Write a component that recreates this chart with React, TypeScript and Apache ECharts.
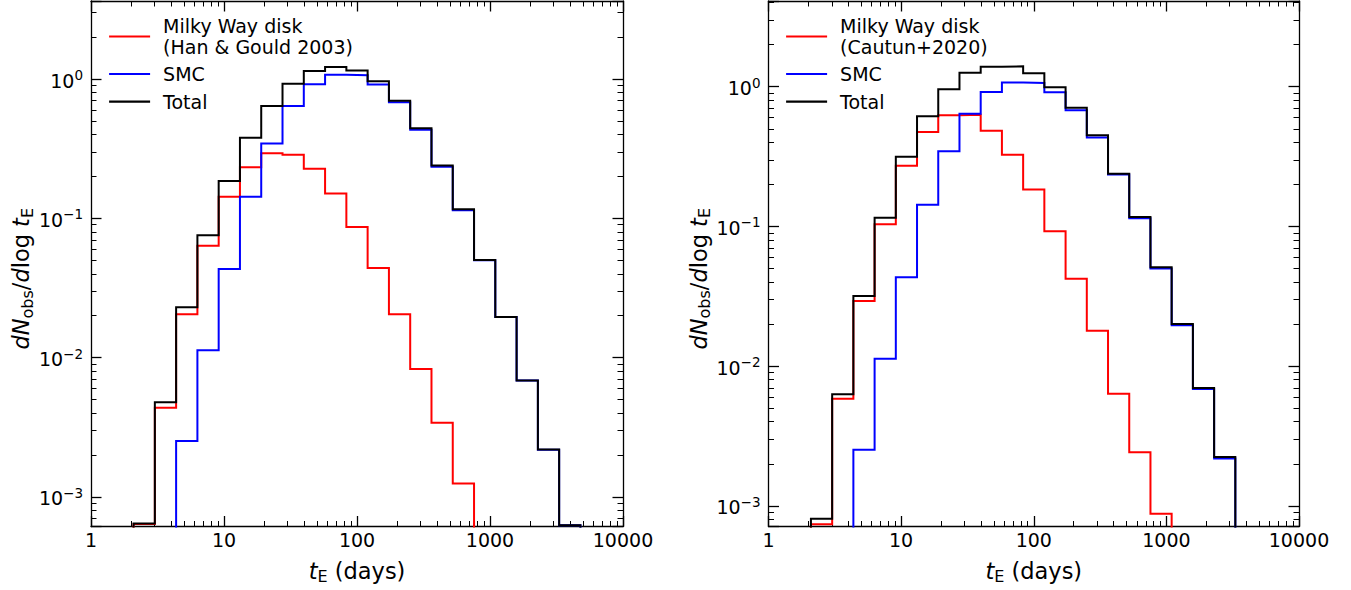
import React, { useEffect, useRef } from "react";
import * as echarts from "echarts";

// Histogram bin edges in t_E (days), log-spaced bins of 0.16 dex
const binEdges = [
  2.089, 3.02, 4.365, 6.31, 9.12, 13.18, 19.05, 27.54, 39.81, 57.54, 83.18,
  120.2, 173.8, 251.2, 363.1, 524.8, 758.6, 1096, 1585, 2291, 3311, 4786,
];

// dN_obs/dlog t_E per bin (null = below plotted range / empty)
const smc = [
  null, null, 2.52e-3, 0.01128, 0.0433, 0.143, 0.345, 0.64, 0.916, 1.074, 1.063,
  0.912, 0.68, 0.433, 0.235, 0.1145, 0.05, 0.0196, 6.85e-3, 2.18e-3, 6.28e-4,
];
const mwHanGould = [
  6.4e-4, 4.37e-3, 0.0205, 0.0636, 0.143, 0.233, 0.293, 0.286, 0.227, 0.151,
  0.0866, 0.044, 0.0205, 8.28e-3, 3.41e-3, 1.25e-3, null, null, null, null, null,
];
const totalHanGould = [
  6.45e-4, 4.78e-3, 0.023, 0.0755, 0.185, 0.379, 0.64, 0.925, 1.14, 1.22, 1.15,
  0.962, 0.699, 0.443, 0.239, 0.116, 0.0502, 0.0196, 6.87e-3, 2.19e-3, 6.28e-4,
];
const mwCautun = [
  7.37e-4, 5.85e-3, 0.0292, 0.1035, 0.272, 0.474, 0.624, 0.63, 0.484, 0.326,
  0.184, 0.0925, 0.0422, 0.0179, 6.34e-3, 2.42e-3, 8.78e-4, null, null, null, null,
];
const totalCautun = [
  8.09e-4, 6.28e-3, 0.0318, 0.1154, 0.3155, 0.614, 0.958, 1.26, 1.39, 1.4, 1.25,
  0.99, 0.708, 0.449, 0.238, 0.117, 0.051, 0.02, 6.97e-3, 2.24e-3, 6.28e-4,
];

const xRange = [1, 10000];
const yRangeLeft = [6.14e-4, 3.63];
const yRangeRight = [7.11e-4, 4.11];

const seriesNamesLeft = ["Milky Way disk\n(Han & Gould 2003)", "SMC", "Total"];
const seriesNamesRight = ["Milky Way disk\n(Cautun+2020)", "SMC", "Total"];

const FONT = "DejaVu Sans";
const FLOOR = 1e-7;

function stepPoints(vals: (number | null)[]) {
  const pts: number[][] = [];
  let started = false;
  for (let i = 0; i < vals.length; i++) {
    const v = vals[i];
    if (v == null) {
      if (started) {
        pts.push([binEdges[i], FLOOR]);
        started = false;
      }
      continue;
    }
    if (!started) {
      pts.push([binEdges[i], FLOOR]);
      started = true;
    }
    pts.push([binEdges[i], v]);
    pts.push([binEdges[i + 1], v]);
  }
  if (started) pts.push([binEdges[vals.length], FLOOR]);
  return pts;
}

function minorLogValues(lo: number, hi: number) {
  const out: number[] = [];
  for (let n = Math.floor(lo) - 1; n <= Math.ceil(hi); n++) {
    for (let k = 2; k <= 9; k++) {
      const v = n + Math.log10(k);
      if (v > lo && v < hi) out.push(v);
    }
  }
  return out;
}

const axisLineStyle = { color: "#000", width: 1.3 };
const majorTick = { show: true, inside: true, length: 10.5, lineStyle: { color: "#000", width: 1.3 } };
const minorTickBase = { show: true, inside: true, length: 5.5, lineStyle: { color: "#000", width: 1 } };

const richName = {
  i: { fontFamily: FONT, fontSize: 22.5, fontStyle: "italic", lineHeight: 28, verticalAlign: "middle", color: "#000" },
  n: { fontFamily: FONT, fontSize: 22.5, lineHeight: 28, verticalAlign: "middle", color: "#000" },
  s: { fontFamily: FONT, fontSize: 16, lineHeight: 15, verticalAlign: "bottom", color: "#000" },
};

function supLabel(v: number) {
  const e = Math.log10(v);
  const r = Math.round(e);
  if (Math.abs(e - r) > 1e-6) return "";
  return `{b|10}{p|${r < 0 ? "\u2212" : ""}${Math.abs(r)}}`;
}

function buildPanel(g: number, yRange: number[], names: string[], mw: (number | null)[], total: (number | null)[], withYName: boolean) {
  const xMinor = minorLogValues(0, 4);
  const yLo = Math.log10(yRange[0]);
  const yHi = Math.log10(yRange[1]);
  const yMinor = minorLogValues(yLo, yHi);
  const xAxes: any[] = [
    {
      type: "log", gridIndex: g, position: "bottom", min: xRange[0], max: xRange[1], logBase: 10,
      axisLine: { show: true, onZero: false, lineStyle: axisLineStyle },
      axisTick: majorTick,
      axisLabel: {
        show: true, interval: 0, margin: 4, showMinLabel: true, showMaxLabel: true,
        fontFamily: FONT, fontSize: 19, color: "#000",
        formatter: (v: number) => String(Math.round(v)),
      },
      splitLine: { show: false },
      name: "{i|t}{s|E}{n| (days)}", nameLocation: "middle", nameGap: 30,
      nameTextStyle: { rich: richName },
    },
    {
      type: "value", gridIndex: g, position: "bottom", min: 0, max: 4,
      axisLine: { show: false, onZero: false }, axisTick: { ...minorTickBase, customValues: xMinor },
      axisLabel: { show: false }, splitLine: { show: false },
    },
    {
      type: "log", gridIndex: g, position: "top", min: xRange[0], max: xRange[1], logBase: 10,
      axisLine: { show: true, onZero: false, lineStyle: axisLineStyle }, axisTick: majorTick,
      axisLabel: { show: false }, splitLine: { show: false },
    },
    {
      type: "value", gridIndex: g, position: "top", min: 0, max: 4,
      axisLine: { show: false, onZero: false }, axisTick: { ...minorTickBase, customValues: xMinor },
      axisLabel: { show: false }, splitLine: { show: false },
    },
  ];
  const yAxes: any[] = [
    {
      type: "log", gridIndex: g, position: "left", min: yRange[0], max: yRange[1], logBase: 10,
      axisLine: { show: true, onZero: false, lineStyle: axisLineStyle }, axisTick: majorTick,
      axisLabel: {
        show: true, margin: 8, showMinLabel: true, showMaxLabel: true,
        formatter: supLabel,
        rich: {
          b: { fontFamily: FONT, fontSize: 19, lineHeight: 22, verticalAlign: "bottom", color: "#000" },
          p: { fontFamily: FONT, fontSize: 13.5, lineHeight: 13, verticalAlign: "top", color: "#000" },
        },
      },
      splitLine: { show: false },
      name: withYName ? "{i|dN}{s|obs}{n|/}{i|d}{n|log }{i|t}{s|E}" : "",
      nameLocation: "middle", nameRotate: 90, nameGap: 56,
      nameTextStyle: { rich: richName, padding: [0, 30, 0, 0] },
    },
    {
      type: "value", gridIndex: g, position: "left", min: yLo, max: yHi,
      axisLine: { show: false, onZero: false }, axisTick: { ...minorTickBase, customValues: yMinor },
      axisLabel: { show: false }, splitLine: { show: false },
    },
    {
      type: "log", gridIndex: g, position: "right", min: yRange[0], max: yRange[1], logBase: 10,
      axisLine: { show: true, onZero: false, lineStyle: axisLineStyle }, axisTick: majorTick,
      axisLabel: { show: false }, splitLine: { show: false },
    },
    {
      type: "value", gridIndex: g, position: "right", min: yLo, max: yHi,
      axisLine: { show: false, onZero: false }, axisTick: { ...minorTickBase, customValues: yMinor },
      axisLabel: { show: false }, splitLine: { show: false },
    },
  ];
  const mk = (name: string, vals: (number | null)[], color: string) => ({
    type: "line", name, xAxisIndex: g * 4, yAxisIndex: g * 4, data: stepPoints(vals),
    symbol: "none", clip: true, lineStyle: { color, width: 2, join: "miter" }, itemStyle: { color },
    emphasis: { disabled: true },
  });
  const series = [
    mk(names[0], mw, "#ff0000"),
    mk(names[1], smc, "#0000ff"),
    mk(names[2], total, "#000000"),
  ];
  return { xAxes, yAxes, series };
}

const gridLeft = { left: 91, top: 1, width: 532, height: 525.5 };
const gridRight = { left: 768.5, top: 1, width: 530.5, height: 525.5 };

export default function App() {
  const ref = useRef<HTMLDivElement>(null);
  useEffect(() => {
    document.body.style.margin = "0";
    if (!ref.current) return;
    const chart = echarts.init(ref.current, undefined, { renderer: "svg" });
    const p0 = buildPanel(0, yRangeLeft, seriesNamesLeft, mwHanGould, totalHanGould, true);
    const p1 = buildPanel(1, yRangeRight, seriesNamesRight, mwCautun, totalCautun, true);
    const legendText = { fontFamily: FONT, fontSize: 19, lineHeight: 21, color: "#000", padding: [0, 0, 0, 8] };
    const legendCommon = {
      orient: "vertical", padding: 0, itemWidth: 41, itemHeight: 14, selectedMode: false,
      textStyle: legendText,
      itemStyle: { opacity: 0 },
      lineStyle: { width: 2.2 },
    };
    chart.setOption({
      animation: false,
      textStyle: { fontFamily: FONT },
      grid: [
        { ...gridLeft, containLabel: false },
        { ...gridRight, containLabel: false },
      ],
      legend: [
        { ...legendCommon, left: 108, top: 15.5, data: [seriesNamesLeft[0]] },
        { ...legendCommon, left: 108, top: 63.5, itemGap: 6.7, data: [seriesNamesLeft[1], seriesNamesLeft[2]] },
        { ...legendCommon, left: 785, top: 15.5, data: [seriesNamesRight[0]] },
        { ...legendCommon, left: 785, top: 63.5, itemGap: 6.7, data: [seriesNamesRight[1], seriesNamesRight[2]] },
      ],
      xAxis: [...p0.xAxes, ...p1.xAxes],
      yAxis: [...p0.yAxes, ...p1.yAxes],
      series: [...p0.series, ...p1.series],
    });
    return () => chart.dispose();
  }, []);
  return <div ref={ref} style={{ width: 1351, height: 590 }} />;
}
